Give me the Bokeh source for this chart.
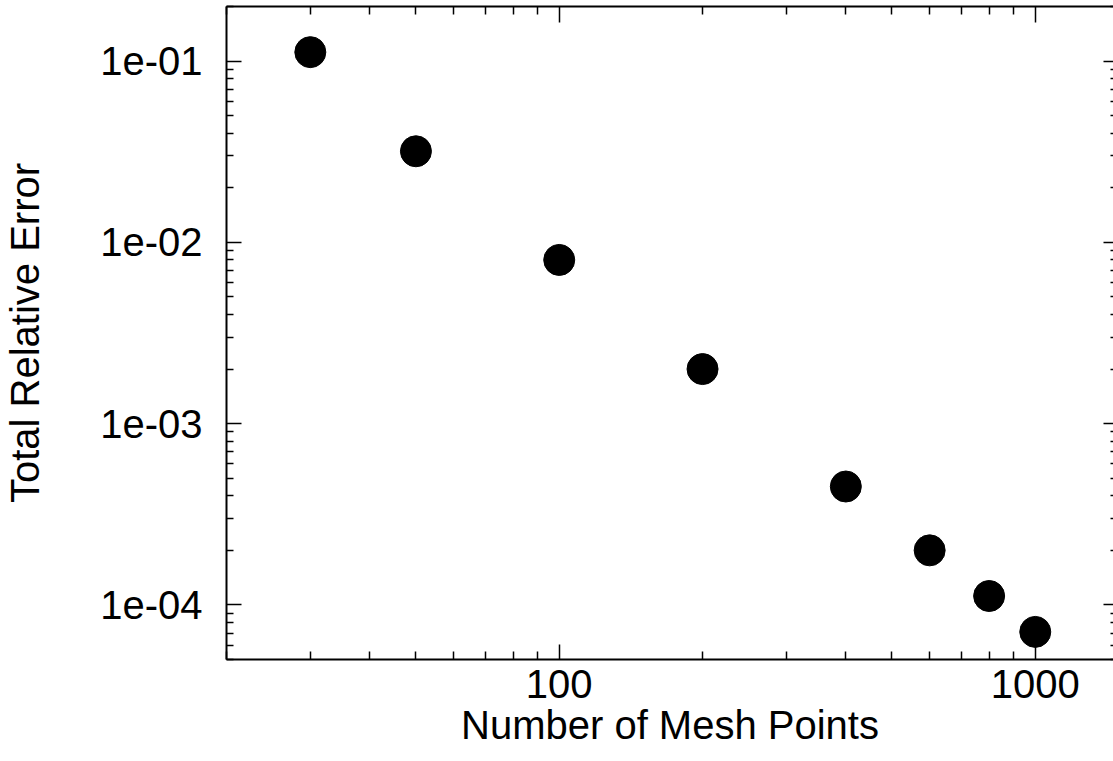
from bokeh.plotting import figure
from bokeh.models import LogAxis, FixedTicker, CustomJSTickFormatter, Range1d
from bokeh.embed import file_html
from bokeh.resources import INLINE

# Convergence data: total relative error versus mesh size
mesh_points = [30, 50, 100, 200, 400, 600, 800, 1000]
relative_error = [0.112, 0.0318, 0.0080, 0.0020, 4.5e-4, 2.0e-4, 1.12e-4, 7.1e-5]

# Tick positions
x_major = [100, 1000]
x_minor = [20, 30, 40, 50, 60, 70, 80, 90, 200, 300, 400, 500, 600, 700, 800, 900]
y_major = [1e-4, 1e-3, 1e-2, 1e-1]
y_minor = [m * 10.0 ** k for k in (-5, -4, -3, -2, -1) for m in range(2, 10)]

FONT = "Liberation Sans"

p = figure(
    width=1113, height=761,
    x_axis_type="log", y_axis_type="log",
    x_range=Range1d(20, 1460), y_range=Range1d(5e-5, 0.2),
    output_backend="svg", toolbar_location=None,
    min_border_left=226, min_border_right=0,
    min_border_top=6, min_border_bottom=102,
)
p.grid.visible = False
p.outline_line_color = None
p.background_fill_color = "white"
p.border_fill_color = "white"

p.scatter(mesh_points, relative_error, size=31, color="black")

y_fmt = CustomJSTickFormatter(code="""
const e = Math.round(Math.log10(tick));
const s = Math.abs(e).toString().padStart(2, "0");
return "1e" + (e < 0 ? "-" : "+") + s;
""")
x_fmt = CustomJSTickFormatter(code="return Math.round(tick).toString();")
blank = CustomJSTickFormatter(code="return '';")


def style_axis(ax, major_in=15, minor_in=7, line=True):
    ax.axis_line_color = "black" if line else None
    ax.axis_line_width = 2
    ax.major_tick_in = major_in
    ax.major_tick_out = 0
    ax.minor_tick_in = minor_in
    ax.minor_tick_out = 0
    ax.major_tick_line_color = "black"
    ax.minor_tick_line_color = "black"
    ax.major_tick_line_width = 1.5
    ax.minor_tick_line_width = 1.5
    ax.major_label_text_font = FONT
    ax.major_label_text_color = "black"
    ax.axis_label_text_font = FONT
    ax.axis_label_text_font_style = "normal"
    ax.axis_label_text_color = "black"


xa = p.xaxis[0]
xa.ticker = FixedTicker(ticks=x_major, minor_ticks=x_minor)
xa.formatter = x_fmt
style_axis(xa, 15, 8)
xa.major_label_text_font_size = "40px"
xa.major_label_standoff = 10
xa.axis_label = "Number of Mesh Points"
xa.axis_label_text_font_size = "40px"
xa.axis_label_standoff = 2

ya = p.yaxis[0]
ya.ticker = FixedTicker(ticks=y_major, minor_ticks=y_minor)
ya.formatter = y_fmt
style_axis(ya, 15, 7)
ya.major_label_text_font_size = "40px"
ya.major_label_standoff = 24
ya.axis_label = "Total Relative Error"
ya.axis_label_text_font_size = "40px"
ya.axis_label_standoff = 50

top = LogAxis(ticker=FixedTicker(ticks=x_major, minor_ticks=x_minor), formatter=blank)
style_axis(top, 16, 8)
top.major_label_text_font_size = "0px"
top.major_label_standoff = 0
p.add_layout(top, "above")

right = LogAxis(ticker=FixedTicker(ticks=y_major, minor_ticks=y_minor), formatter=blank)
style_axis(right, 10, 3, line=False)
right.major_label_text_font_size = "0px"
right.major_label_standoff = 0
p.add_layout(right, "right")

open("out.html", "w").write(file_html(p, INLINE))
